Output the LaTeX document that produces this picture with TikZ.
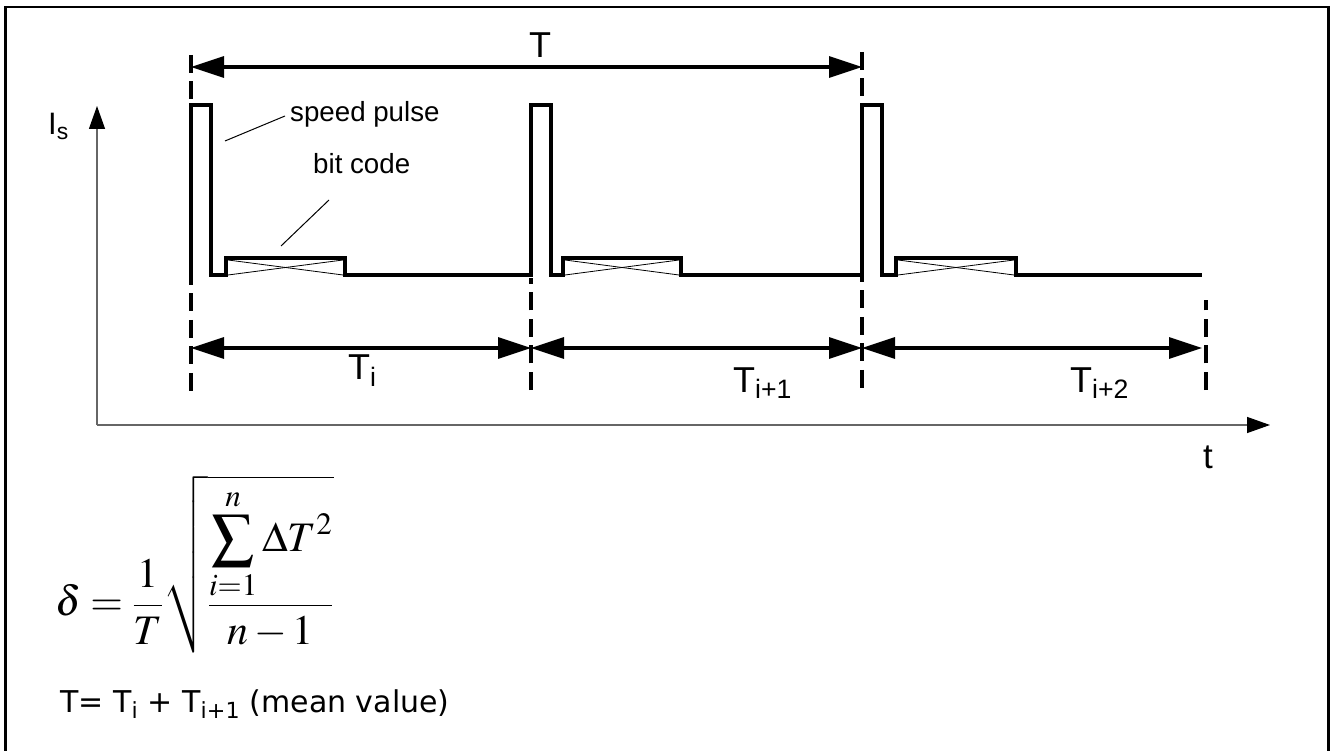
\documentclass[tikz,border=0pt]{standalone}
\usepackage{mathptmx}
\usepackage[no-math]{fontspec}
\setmainfont{Liberation Sans}
\newfontfamily\verd{DejaVu Sans}
\usetikzlibrary{arrows.meta}
\begin{document}
\begin{tikzpicture}[x=1pt,y=-1pt,
  sig/.style={line width=3.2pt, line join=miter},
  dashv/.style={line width=3.6pt, dash pattern=on 18pt off 8.5pt},
  dimarr/.style={line width=3.2pt, {Triangle[length=33pt,width=21pt]}-{Triangle[length=33pt,width=21pt]}},
  ax/.style={line width=1.3pt, draw=black!60, -{Triangle[length=23pt,width=16pt,color=black]}},
  lead/.style={line width=1pt},
  crossline/.style={line width=0.8pt},
  lbl/.style={inner sep=0pt, anchor=base west, font=\fontsize{27.7}{30}\selectfont},
  biglbl/.style={inner sep=0pt, anchor=base west, font=\fontsize{36}{40}\selectfont},
]
\useasboundingbox (0,0) rectangle (1331,751);
\fill[white] (0,0) rectangle (1331,751);
% frame
\draw[line width=2.5pt] (5.5,751) -- (5.5,7) -- (1328.5,7) -- (1328.5,751);

% axes
\coordinate (O) at (97,425);
\coordinate (ytip) at (97,106);
\coordinate (xtip) at (1270,425);
\draw[ax] (O) -- (ytip);
\draw[ax] (O) -- (xtip);

% signal
\draw[sig] (191,275) -- (191,105) -- (211,105) -- (211,275) -- (226,275) -- (226,258) -- (345,258) -- (345,275)
  -- (531,275) -- (531,105) -- (551,105) -- (551,275) -- (563,275) -- (563,258) -- (681,258) -- (681,275)
  -- (862,275) -- (862,105) -- (882,105) -- (882,275) -- (896,275) -- (896,258) -- (1016,258) -- (1016,275)
  -- (1202,275);
% bit-code crosses
\foreach \a/\b in {226/345, 563/681, 896/1016}{
  \draw[crossline] (\a+2,275) -- (\b-2,260);
  \draw[crossline] (\a+2,260) -- (\b-2,275);
}

% dashed markers
\coordinate (d1t) at (191,55);  \coordinate (d1b) at (191,391);
\coordinate (d2t) at (531,278); \coordinate (d2b) at (531,390);
\coordinate (d3t) at (862,52);  \coordinate (d3b) at (862,390);
\coordinate (d4t) at (1206,300); \coordinate (d4b) at (1206,390);
\draw[dashv] (d1t) -- (d1b);
\draw[dashv] (d2b) -- (d2t);
\draw[dashv] (d3t) -- (d3b);
\draw[dashv] (d4b) -- (d4t);

% dimension arrows
\coordinate (Ta) at (191,67);  \coordinate (Tb) at (862,67);
\coordinate (a1) at (191,348); \coordinate (a2) at (531,348);
\coordinate (a3) at (862,348); \coordinate (a4) at (1202,348);
\draw[dimarr] (Ta) -- (Tb);
\draw[dimarr] (a1) -- (a2);
\draw[dimarr] (a2) -- (a3);
\draw[dimarr] (a3) -- (a4);

% labels
\node[biglbl] (lT) at (529,58) {T};
\node[biglbl] (lTi) at (348,380) {T\textsubscript{i}};
\node[biglbl] (lTi1) at (733,392) {T\textsubscript{i+1}};
\node[biglbl] (lTi2) at (1070,392) {T\textsubscript{i+2}};
\node[inner sep=0pt, anchor=base west, font=\fontsize{31}{34}\selectfont] (lIs) at (48,135) {I\textsubscript{s}};
\node[inner sep=0pt, anchor=base west, font=\fontsize{35}{38}\selectfont] (lt) at (1203,468) {t};

\node[lbl] (sp) at (290,122) {speed pulse};
\node[lbl] (bc) at (313,174) {bit code};
\coordinate (sp1) at (225,141); \coordinate (sp2) at (285,116);
\coordinate (bc1) at (281,246); \coordinate (bc2) at (329,200);
\draw[lead] (sp1) -- (sp2);
\draw[lead] (bc1) -- (bc2);

% formula
\node[inner sep=0pt, anchor=west, font=\fontsize{42}{50}\selectfont] (formula) at (55,564)
  {$\displaystyle \delta=\frac{1}{T}\sqrt{\frac{\displaystyle\sum_{i=1}^{n}\Delta T^{2}}{\displaystyle n-1}}$};
\node[inner sep=0pt, anchor=base west, font=\verd\fontsize{30}{34}\selectfont] (mean) at (60,712)
  {T= T\textsubscript{i} + T\textsubscript{i+1} (mean value)};
\end{tikzpicture}
\end{document}
